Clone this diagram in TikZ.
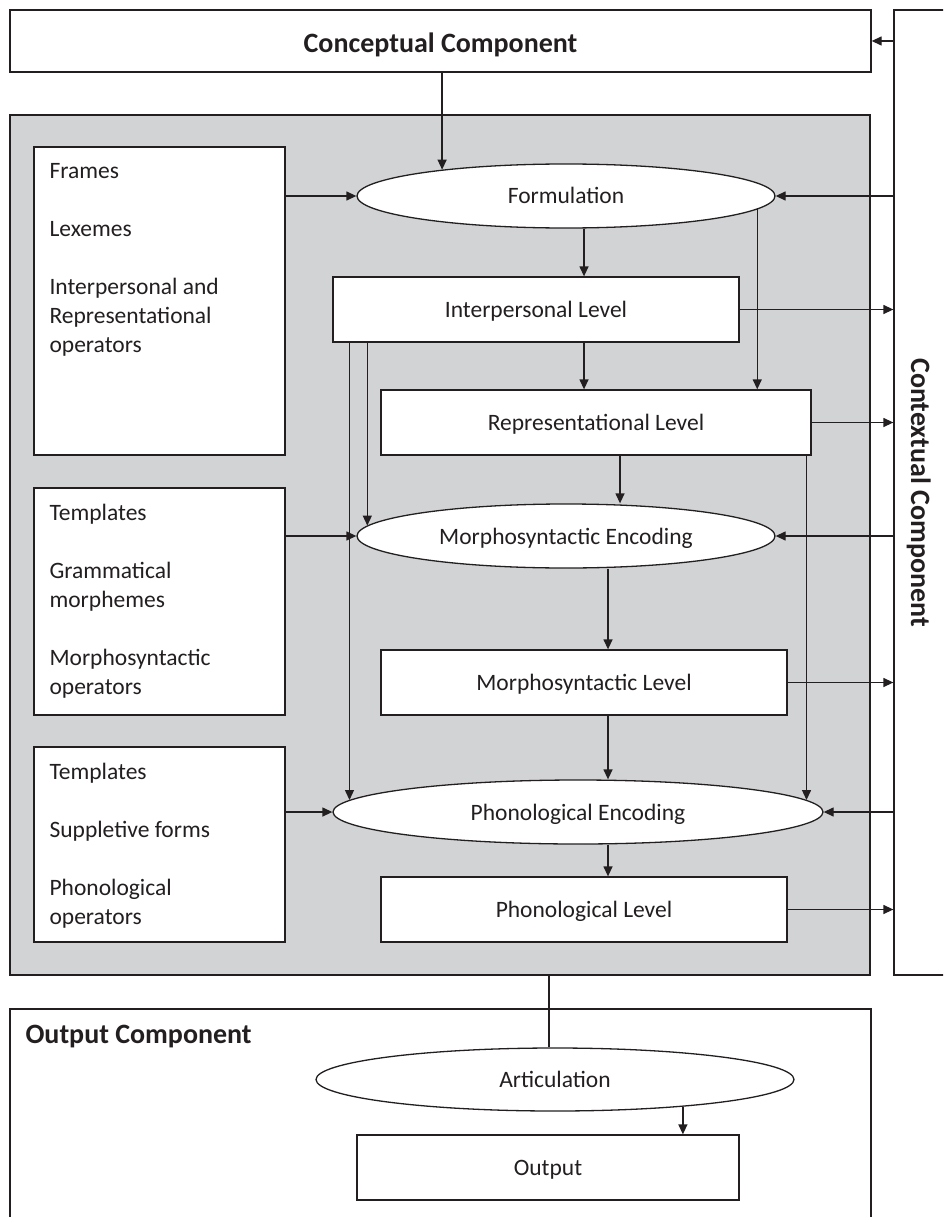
\documentclass[tikz,border=0pt]{standalone}
\usepackage{fontspec}
\setmainfont{Carlito}
\usetikzlibrary{arrows.meta,shapes.geometric}
\definecolor{ink}{RGB}{35,31,32}
\definecolor{panel}{RGB}{209,211,212}
\begin{document}
\begin{tikzpicture}[x=1pt,y=-1pt,
  every node/.style={text=ink},
  txt/.style={font=\fontsize{23.5}{29}\selectfont, text height=16pt, text depth=0pt},
  head/.style={font=\fontsize{28}{34}\selectfont\bfseries},
  lvl/.style={rectangle, draw=ink, line width=1.3pt, fill=white, inner sep=0pt, minimum height=65pt, txt},
  enc/.style={ellipse, draw=ink, line width=1.3pt, fill=white, inner sep=0pt, minimum height=64pt, txt},
  store/.style={rectangle, draw=ink, line width=1.3pt, fill=white, minimum width=251pt},
  arr/.style={draw=ink, line width=1.3pt, -{Triangle[length=10pt,width=9pt]}},
  wire/.style={draw=ink, line width=1.3pt}]
\useasboundingbox (0,0) rectangle (943,1217);
\clip (0,0) rectangle (943,1217);
% outer components
\node[draw=ink, line width=1.3pt, minimum width=861pt, minimum height=62pt, head, text height=24pt, text depth=0pt] (concept) at (440.5,41) {Conceptual Component};
\node[draw=ink, line width=1.3pt, minimum width=66pt, minimum height=965pt] (ctx) at (927,492.5) {};
\node[head, rotate=-90, inner sep=0pt, text height=18pt, text depth=0pt] at (920,492.5) {Contextual Component};
\node[draw=ink, line width=2.7pt, fill=panel, minimum width=860pt, minimum height=860pt] (fgbox) at (440,545) {};
% stores on the left
\node[store, minimum height=308pt] (lex) at (159.5,301) {};
\node[store, minimum height=227pt] (gram) at (159.5,601.5) {};
\node[store, minimum height=195pt] (supp) at (159.5,844.5) {};
\node[txt, text height=, text depth=, anchor=north west, align=left, inner sep=0pt] at ([xshift=16pt,yshift=-17pt]lex.north west) {Frames\\[29pt]Lexemes\\[29pt]Interpersonal and\\Representational\\operators};
\node[txt, text height=, text depth=, anchor=north west, align=left, inner sep=0pt] at ([xshift=16pt,yshift=-17pt]gram.north west) {Templates\\[29pt]Grammatical\\morphemes\\[29pt]Morphosyntactic\\operators};
\node[txt, text height=, text depth=, anchor=north west, align=left, inner sep=0pt] at ([xshift=16pt,yshift=-17pt]supp.north west) {Templates\\[29pt]Suppletive forms\\[29pt]Phonological\\operators};
% encoding steps and levels
\node[enc, minimum width=418pt] (form) at (566,196) {Formulation};
\node[lvl, minimum width=406pt] (interp) at (536,309.5) {Interpersonal Level};
\node[lvl, minimum width=430pt] (rep) at (596,422.5) {Representational Level};
\node[enc, minimum width=418pt] (menc) at (566,536) {Morphosyntactic Encoding};
\node[lvl, minimum width=406pt] (mlev) at (584,682.5) {Morphosyntactic Level};
\node[enc, minimum width=490pt] (penc) at (578,812) {Phonological Encoding};
\node[lvl, minimum width=406pt] (plev) at (584,909.5) {Phonological Level};
% output component
\node[draw=ink, line width=1.3pt, minimum width=861pt, minimum height=240pt] (outcomp) at (440.5,1129) {};
\node[head, anchor=base west, inner sep=0pt] at ([xshift=16pt,yshift=-35pt]outcomp.north west) {Output Component};
\node[enc, minimum width=478pt, minimum height=63pt] (artic) at (555,1079.5) {Articulation};
\node[lvl, minimum width=382pt] (outp) at (548,1167.5) {Output};
% connectors
\draw[arr] (ctx.west |- concept.east) -- (concept.east);
\draw[arr] (form.168.2 |- concept.south) -- (form.168.2);
\draw[arr] (lex.east |- form.west) -- (form.west);
\draw[arr] (ctx.west |- form.east) -- (form.east);
\draw[arr] ([xshift=18pt]form.south) -- ([xshift=18pt]form.south |- interp.north);
\draw[arr] (form.-4.67) -- (form.-4.67 |- rep.north);
\draw[arr] (interp.east) -- (interp.east -| ctx.west);
\draw[arr] ([xshift=48pt]interp.south) -- ([xshift=48pt]interp.south |- rep.north);
\draw[arr] (menc.177 |- interp.south) -- (menc.177);
\draw[arr] (penc.177.9 |- interp.south) -- (penc.177.9);
\draw[arr] (rep.east) -- (rep.east -| ctx.west);
\draw[arr] ([xshift=24pt]rep.south) -- ([xshift=24pt]rep.south |- menc.north);
\draw[arr] (penc.3.57 |- rep.south) -- (penc.3.57);
\draw[arr] (gram.east |- menc.west) -- (menc.west);
\draw[arr] (ctx.west |- menc.east) -- (menc.east);
\draw[arr] ([xshift=42pt]menc.south) -- ([xshift=42pt]menc.south |- mlev.north);
\draw[arr] (mlev.east) -- (mlev.east -| ctx.west);
\draw[arr] ([xshift=24pt]mlev.south) -- ([xshift=24pt]mlev.south |- penc.north);
\draw[arr] (supp.east |- penc.west) -- (penc.west);
\draw[arr] (ctx.west |- penc.east) -- (penc.east);
\draw[arr] ([xshift=30pt]penc.south) -- ([xshift=30pt]penc.south |- plev.north);
\draw[arr] (plev.east) -- (plev.east -| ctx.west);
\draw[wire] ([xshift=-6pt]artic.north) -- ([xshift=-6pt]artic.north |- fgbox.south);
\draw[arr] (artic.-12.5) -- (artic.-12.5 |- outp.north);
\end{tikzpicture}
\end{document}
